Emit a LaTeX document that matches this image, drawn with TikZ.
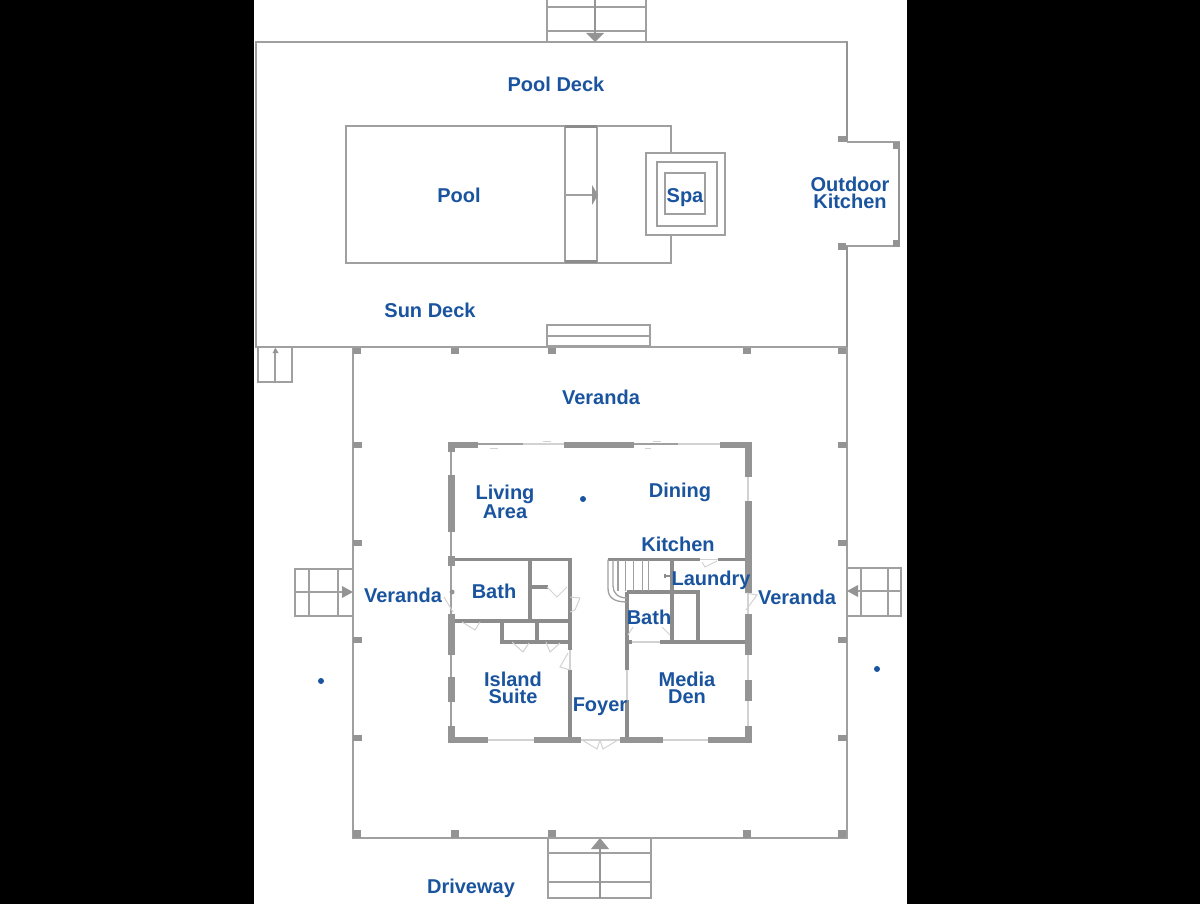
\documentclass[tikz,border=0pt]{standalone}
\usepackage{fontspec}
\setmainfont{Liberation Sans}
\definecolor{wallc}{HTML}{A0A0A0}
\definecolor{thickc}{HTML}{949494}
\definecolor{innerc}{HTML}{8C8C8C}
\definecolor{doorc}{HTML}{D2D2D2}
\definecolor{labelc}{HTML}{1A549E}
\tikzset{
  x=1pt,y=-1pt,
  wall/.style={draw=wallc,line width=1.9pt},
  heavywall/.style={draw=thickc,line width=2.8pt},
  thinwall/.style={draw=wallc,line width=1.3pt},
  inwall/.style={draw=innerc,line width=3.3pt},
  glasswall/.style={draw=doorc,line width=1.5pt},
  doorleaf/.style={draw=doorc,line width=1pt},
  thick block/.style={fill=thickc,draw=none},
  post/.style={fill=thickc,draw=none},
  arrowhead/.style={fill=thickc,draw=none},
  lbl/.style={text=labelc,font=\fontsize{20}{17}\selectfont\bfseries,align=center,inner sep=0pt},
  dotmark/.style={fill=labelc,draw=none}
}
\begin{document}
\begin{tikzpicture}
\useasboundingbox (0,0) rectangle (1200,904);
\fill[black] (0,0) rectangle (254,904);
\fill[black] (907,0) rectangle (1200,904);
\fill[white] (254,0) rectangle (907,904);
% decks
\draw[wall] (847,141) -- (847,42) -- (256,42) -- (256,347) -- (847,347) -- (847,246) -- (899,246) -- (899,142) -- (847,142);
\draw[heavywall] (847,42) -- (847,141) (847,246) -- (847,347) (899,142) -- (899,246);
% top stair
\draw[thinwall] (547,0) -- (547,42) (646,0) -- (646,42) (547,7) -- (646,7) (547,31) -- (646,31);
\draw[heavywall] (595,0) -- (595,34);
\fill[arrowhead] (586,33) -- (604,33) -- (595,42) -- cycle;
% pool
\draw[wall] (346,126) rectangle (671,263);
\draw[wall] (565,127) rectangle (597,262);
\draw[wall] (565,195) -- (593,195);
\fill[arrowhead] (592,185) -- (598,195) -- (592,205) -- cycle;
\fill[innerc] (565,125.5) rectangle (597,128);
\fill[innerc] (565,260.5) rectangle (597,263.5);
% spa
\fill[white] (646,153) rectangle (725,235);
\draw[wall] (646,153) rectangle (725,235);
\draw[wall] (657,162) rectangle (717,226);
\draw[wall] (665,173) rectangle (705,214);
% outdoor kitchen posts
\fill[post] (838,136) rectangle (847,142);
\fill[post] (893,142) rectangle (900,149);
\fill[post] (893,240) rectangle (900,247);
\fill[post] (838,243) rectangle (846,250);
% sun deck stairs
\draw[wall] (547,325) rectangle (650,346);
\draw[thinwall] (547,336) -- (650,336);
\draw[thinwall] (258,347) -- (258,382) -- (292,382) -- (292,347) (275,349) -- (275,382);
\fill[arrowhead] (272.5,353) -- (275.5,348) -- (278.5,353) -- cycle;
% veranda
\draw[wall] (353,347) -- (353,838) -- (847,838) -- (847,347);
\foreach \x in {353,451,548,743,838}{
  \fill[post] (\x,348) rectangle ++(8,6);
  \fill[post] (\x,830) rectangle ++(8,8);
}
\foreach \y in {445,543,640,738}{
  \fill[post] (353,\y-3) rectangle (362,\y+3);
  \fill[post] (838,\y-3) rectangle (847,\y+3);
}
% front stairs
\draw[wall] (548,838) rectangle (651,898);
\draw[thinwall] (548,853) -- (651,853) (548,882) -- (651,882);
\draw[heavywall] (600,846) -- (600,898);
\fill[arrowhead] (591,849) -- (609,849) -- (600,838) -- cycle;
% left stairs
\draw[thinwall] (353,569) -- (295,569) -- (295,616) -- (353,616) (309,569) -- (309,616) (338,569) -- (338,616) (295,592) -- (344,592);
\fill[arrowhead] (342,586) -- (353,592) -- (342,598) -- cycle;
% right stairs
\draw[thinwall] (847,568) -- (901,568) -- (901,616) -- (847,616) (861,568) -- (861,616) (888,568) -- (888,616) (857,591) -- (901,591);
\fill[arrowhead] (858,585) -- (847,591) -- (858,597) -- cycle;
% house glass / thin parts
\draw[glasswall] (451,444) -- (748,444);
\draw[glasswall] (451,740) -- (748,740);
\draw[glasswall] (451,444) -- (451,740);
\draw[glasswall] (748,444) -- (748,740);
\draw[thinwall] (478,444) -- (523,444) (634,444) -- (678,444);
\draw[thinwall] (451,452) -- (451,475) (451,532) -- (451,556) (451,566) -- (451,614) (451,655) -- (451,677) (451,702) -- (451,726);
% house thick blocks
\foreach \a/\b in {448/478,564/634,720/752}{\fill[thick block] (\a,441.5) rectangle (\b,447.5);}
\foreach \a/\b in {448/488,534/581,620/663,708/752}{\fill[thick block] (\a,737) rectangle (\b,743);}
\foreach \a/\b in {442/452,475/532,556/566,614/655,677/702,726/743}{\fill[thick block] (448,\a) rectangle (455,\b);}
\foreach \a/\b in {442/477,501/593,614/655,680/701,726/743}{\fill[thick block] (745,\a) rectangle (752,\b);}
% interior walls
\draw[inwall] (455,559.5) -- (570,559.5) -- (570,650) (570,670) -- (570,737);
\draw[inwall] (530,559.5) -- (530,621);
\draw[inwall] (530,587) -- (548,587);
\draw[inwall] (455,621) -- (570,621);
\draw[inwall] (502,621) -- (502,642) -- (570,642);
\draw[inwall] (537,621) -- (537,642);
\draw[inwall] (608,559.5) -- (700,559.5) (718,559.5) -- (745,559.5);
\draw[inwall] (672,559.5) -- (672,642);
\draw[inwall] (627,592) -- (698,592) -- (698,642);
\draw[inwall] (627,592) -- (627,670) (627,700) -- (627,737);
\draw[glasswall] (627,670) -- (627,700);
\draw[inwall] (660,642) -- (745,642);
\draw[inwall] (627,642) -- (632,642);
\draw[glasswall] (570,650) -- (570,670) (632,642) -- (660,642) (700,559.5) -- (718,559.5);
% staircase
\draw[thinwall] (608,559.5) -- (608,588) .. controls (608,597) and (613,602) .. (627,602);
\draw[thinwall] (613,559.5) -- (613,586) .. controls (613,593) and (618,598) .. (627,598);
\foreach \x in {625,633,642,648}{\draw[glasswall,draw=wallc,line width=1pt] (\x,560) -- (\x,591);}
\draw[thinwall] (618,560) -- (618,591);
\draw[innerc,line width=1.2pt] (665,576) -- (671,576) (665,574) -- (665,578);
% doors
\draw[doorleaf] (547,587) -- (557,597) -- (567,587);
\draw[doorleaf] (570,597) -- (580,598) -- (575,610) -- (570,612);
\draw[doorleaf] (462,622) -- (475,630) -- (480,622);
\draw[doorleaf] (512,642) -- (523,652) -- (529,643);
\draw[doorleaf] (546,642) -- (550,652) -- (560,643);
\draw[doorleaf] (568,653) -- (560,667) -- (570,670);
\draw[doorleaf] (582,740) -- (597,749) -- (600,740) -- (603,749) -- (618,740);
\draw[doorleaf] (633,627) -- (628,635);
\draw[doorleaf] (662,627) -- (670,635);
\draw[doorleaf] (702,562) -- (705,567) -- (717,561);
\draw[doorleaf] (746,610) -- (757,595) -- (746,593);
\draw[doorleaf] (444,597) -- (453,612);
\fill[thickc] (452,592) circle (2.5);
\draw[doorleaf] (543,441) -- (551,441) (653,441) -- (661,441) (490,448) -- (498,448) (645,448) -- (651,448);
% dots
\fill[dotmark] (583,499) circle (3);
\fill[dotmark] (321,681) circle (3);
\fill[dotmark] (877,669) circle (3);
% labels
\node[lbl] (pooldeck) at (556,84) {Pool Deck};
\node[lbl] (pool) at (459,195) {Pool};
\node[lbl] (spa) at (685,198) {Spa};
\node[lbl] (outdoor) at (850,193) {Outdoor\\Kitchen};
\node[lbl] (sundeck) at (430,310) {Sun Deck};
\node[lbl] (verandatop) at (601,397) {Veranda};
\node[lbl] (living) at (505,501.5) {Living\\Area};
\node[lbl] (dining) at (680,492) {Dining};
\node[lbl] (kitchen) at (678,544) {Kitchen};
\node[lbl] (laundry) at (711,580) {Laundry};
\node[lbl] (bathl) at (494,591) {Bath};
\node[lbl] (verandal) at (403,595) {Veranda};
\node[lbl] (verandar) at (797,597) {Veranda};
\node[lbl] (bathr) at (649,617) {Bath};
\node[lbl] (island) at (513,688) {Island\\Suite};
\node[lbl] (media) at (687,688) {Media\\Den};
\node[lbl] (foyer) at (600,707) {Foyer};
\node[lbl] (driveway) at (471,888) {Driveway};
\end{tikzpicture}
\end{document}
